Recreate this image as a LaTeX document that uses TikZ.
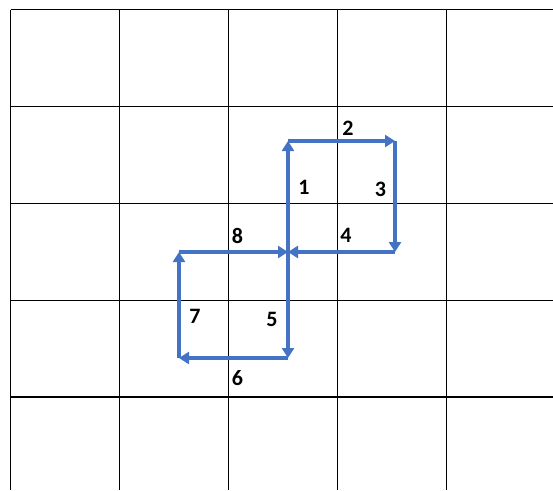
\documentclass[tikz,border=0pt]{standalone}
\usepackage{fontspec}
\setmainfont{Carlito}
\usepackage{tikz}
\usetikzlibrary{arrows.meta}
\definecolor{myblue}{RGB}{68,114,196}
\tikzset{
  gridline/.style={line width=1.3pt, color=black},
  step arrow/.style={-{Triangle[length=10pt, width=12pt]}, line width=3.8pt, color=myblue},
  num/.style={font=\fontsize{22}{26}\selectfont\bfseries, inner sep=0pt}
}
\begin{document}
\begin{tikzpicture}[x=1pt, y=-1pt]
  \useasboundingbox (0,0) rectangle (553,490);
  \foreach \i in {0,...,4}
    \draw[gridline] ({10.5+109*\i},9.5) -- ({10.5+109*\i},490);
  \foreach \j in {0,...,4}
    \draw[gridline] (10.5,{9.5+96.9*\j}) -- (553,{9.5+96.9*\j});

  \coordinate (mid) at (288,252);
  \coordinate (topl) at (288,141);
  \coordinate (topr) at (395,141);
  \coordinate (midr) at (395,252);
  \coordinate (botr) at (288,358);
  \coordinate (botl) at (179,358);
  \coordinate (midl) at (179,252);

  \draw[step arrow] (mid) -- (topl);
  \draw[step arrow] (topl) -- (topr);
  \draw[step arrow] (topr) -- (midr);
  \draw[step arrow] (midr) -- (mid);
  \draw[step arrow] (mid) -- (botr);
  \draw[step arrow] (botr) -- (botl);
  \draw[step arrow] (botl) -- (midl);
  \draw[step arrow] (midl) -- (mid);

  \node[num] (n1) at (304,187) {1};
  \node[num] (n2) at (348,128.5) {2};
  \node[num] (n3) at (380.5,189.5) {3};
  \node[num] (n4) at (346,235.5) {4};
  \node[num] (n5) at (272,319) {5};
  \node[num] (n6) at (237.5,378.5) {6};
  \node[num] (n7) at (195,316) {7};
  \node[num] (n8) at (237.5,235.5) {8};
\end{tikzpicture}
\end{document}
